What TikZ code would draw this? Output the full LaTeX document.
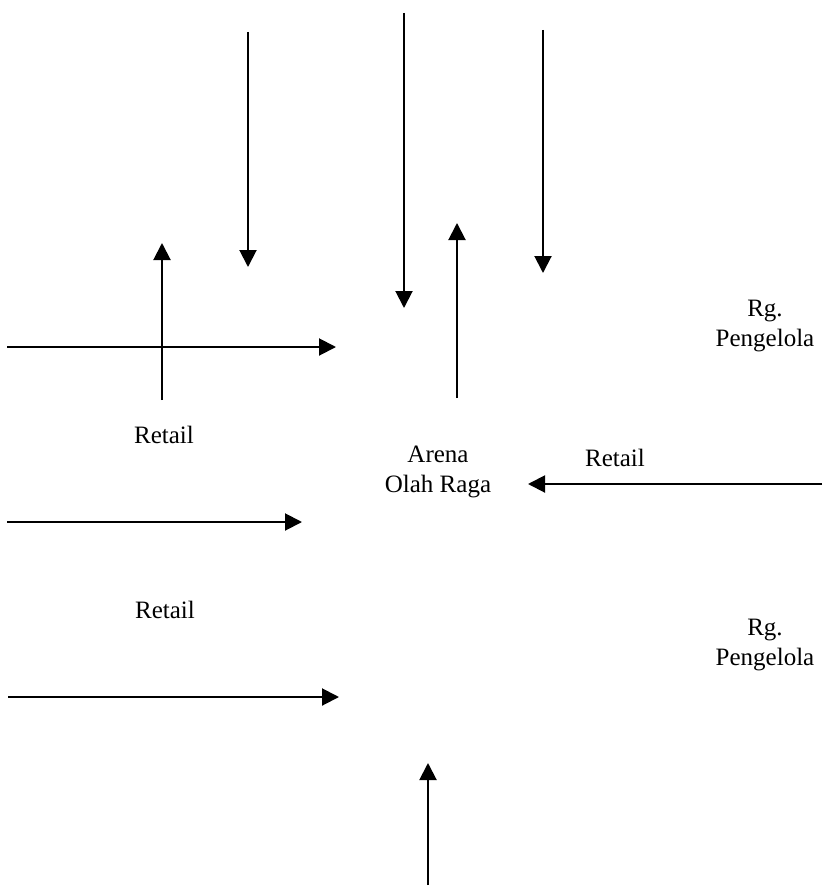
\documentclass[tikz,border=0pt]{standalone}
\usepackage{fontspec}
\setmainfont{Liberation Serif}
\usetikzlibrary{arrows.meta}
\begin{document}
\begin{tikzpicture}[x=1pt,y=-1pt,
  flow/.style={line width=2pt,-{Triangle[length=17pt,width=17pt]}},
  lbl/.style={font=\fontsize{25}{30}\selectfont,inner sep=0pt,align=center}]
\useasboundingbox (0,0) rectangle (822,888);
% labels
\node[lbl,anchor=base] (retailA) at (164,443) {Retail};
\node[lbl] (arena) at (438,472) {Arena\\Olah Raga};
\node[lbl,anchor=base] (retailB) at (615,466) {Retail};
\node[lbl,anchor=base] (retailC) at (165,618) {Retail};
\node[lbl] (pengA) at (765,326) {Rg.\\Pengelola};
\node[lbl] (pengB) at (765,645) {Rg.\\Pengelola};
% arrow end points
\coordinate (a1s) at (248,32);  \coordinate (a1e) at (248,267);
\coordinate (a2s) at (404,13);  \coordinate (a2e) at (404,308);
\coordinate (a3s) at (457,398); \coordinate (a3e) at (457,223);
\coordinate (a4s) at (543,30);  \coordinate (a4e) at (543,273);
\coordinate (a5s) at (162,400); \coordinate (a5e) at (162,243);
\coordinate (a6s) at (7,347);   \coordinate (a6e) at (336,347);
\coordinate (a7s) at (822,484); \coordinate (a7e) at (528,484);
\coordinate (a8s) at (7,522);   \coordinate (a8e) at (302,522);
\coordinate (a9s) at (8,697);   \coordinate (a9e) at (339,697);
\coordinate (a10s) at (428,885); \coordinate (a10e) at (428,763);
% arrows
\draw[flow] (a1s) -- (a1e);
\draw[flow] (a2s) -- (a2e);
\draw[flow] (a3s) -- (a3e);
\draw[flow] (a4s) -- (a4e);
\draw[flow] (a5s) -- (a5e);
\draw[flow] (a6s) -- (a6e);
\draw[flow] (a7s) -- (a7e);
\draw[flow] (a8s) -- (a8e);
\draw[flow] (a9s) -- (a9e);
\draw[flow] (a10s) -- (a10e);
\end{tikzpicture}
\end{document}
